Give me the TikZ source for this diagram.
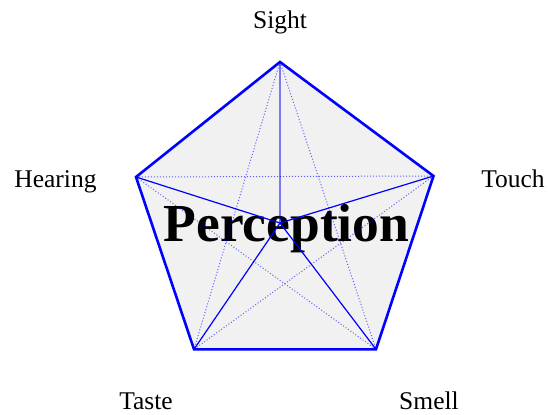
\documentclass[tikz,border=0pt]{standalone}
\usepackage{fontspec}
\setmainfont{Liberation Serif}
\begin{document}
\begin{tikzpicture}[x=1pt,y=-1pt,
  lbl/.style={font=\fontsize{25.5}{30}\selectfont, anchor=base, inner sep=0pt},
  edge/.style={draw=blue, line width=2.6pt, line join=miter},
  spoke/.style={draw=blue, line width=1.2pt},
  diag/.style={draw=blue, line width=1pt, dotted, draw opacity=0.6}]
\useasboundingbox (0,0) rectangle (550,415);
\coordinate (S) at (280,62);
\coordinate (T) at (433.5,176);
\coordinate (M) at (376,349.3);
\coordinate (A) at (194,349.3);
\coordinate (H) at (136,177);
\coordinate (C) at (280,223);
\fill[fill={rgb,255:red,241;green,241;blue,241}] (S) -- (T) -- (M) -- (A) -- (H) -- cycle;
\node[anchor=base, inner sep=0pt, font=\fontsize{53.5}{60}\selectfont\bfseries] (P) at (286.5,241) {Perception};
\draw[diag] (S) -- (A);
\draw[diag] (S) -- (M);
\draw[diag] (H) -- (T);
\draw[diag] (H) -- (M);
\draw[diag] (T) -- (A);
\draw[spoke, line width=1.8pt, draw opacity=0.5] (S) -- (C);
\draw[spoke] (H) -- (C);
\draw[spoke] (T) -- (C);
\draw[spoke] (A) -- (C);
\draw[spoke] (M) -- (C);
\draw[edge] (S) -- (T) -- (M) -- (A) -- (H) -- cycle;
\node[lbl] (lS) at (280,28) {Sight};
\node[lbl] (lH) at (55.5,187) {Hearing};
\node[lbl] (lT) at (513,187) {Touch};
\node[lbl] (lA) at (146,409) {Taste};
\node[lbl] (lM) at (429,409) {Smell};
\end{tikzpicture}
\end{document}
